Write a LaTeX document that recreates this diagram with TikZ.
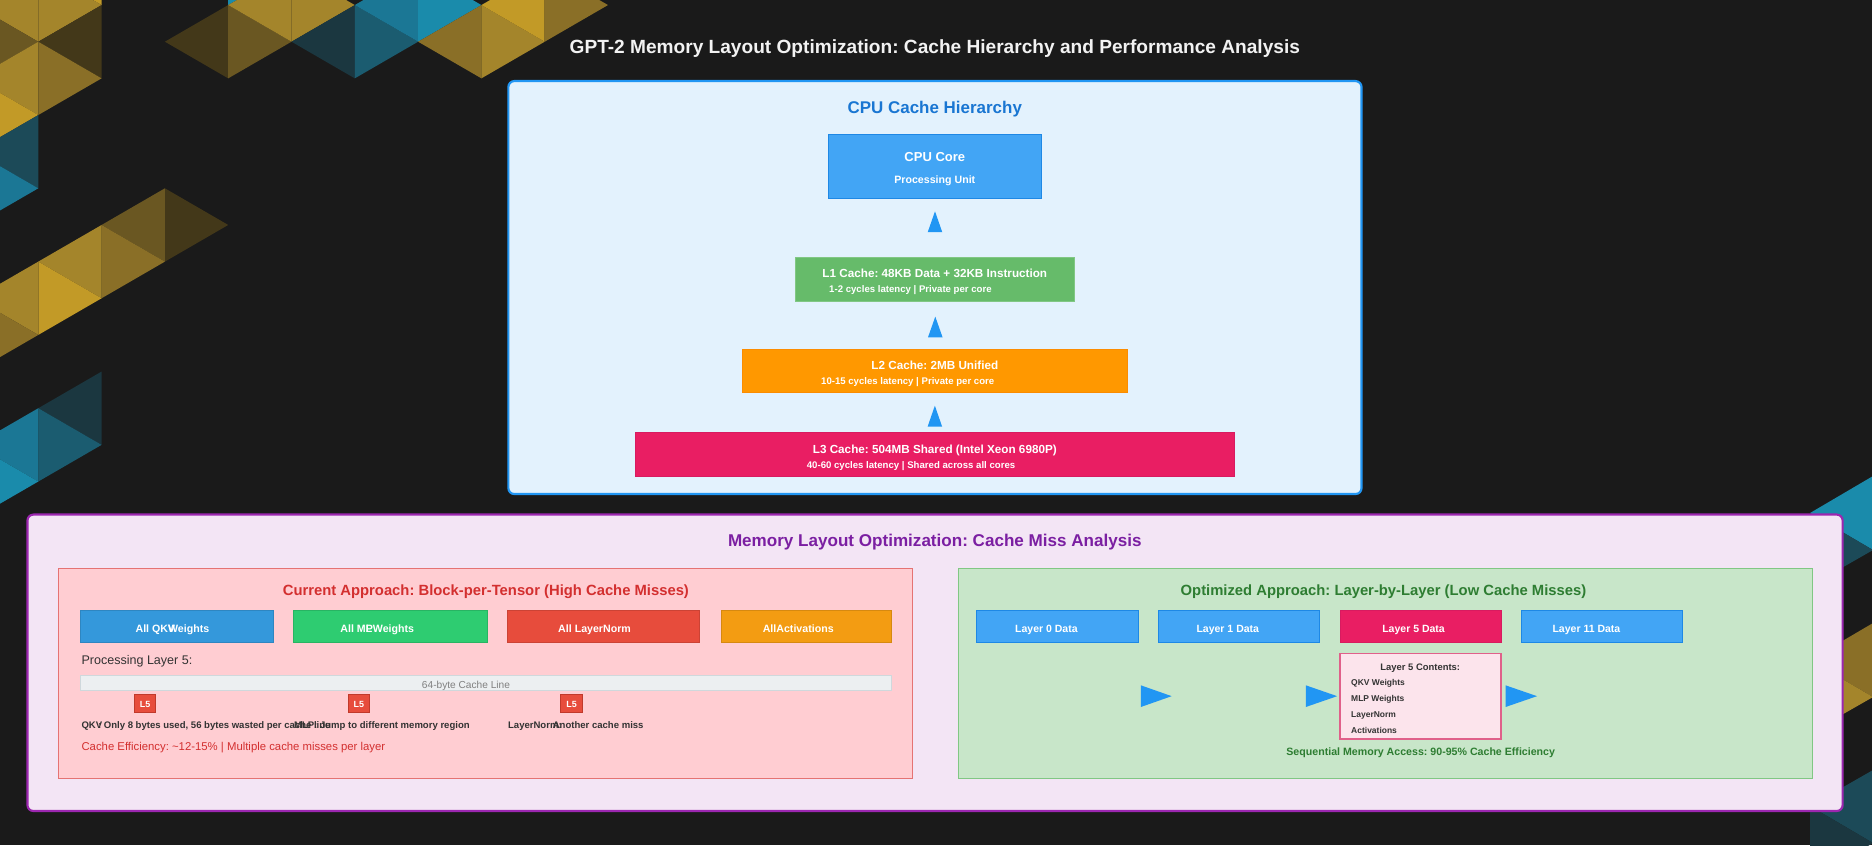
\documentclass[tikz,border=0pt]{standalone}
\usepackage{fontspec}
\setmainfont{Liberation Sans}
\usetikzlibrary{calc}
\frenchspacing
\definecolor{bgc}{HTML}{1A1A1A}
\definecolor{G1}{HTML}{C29A27}
\definecolor{G2}{HTML}{A4852B}
\definecolor{G3}{HTML}{8A6F27}
\definecolor{G4}{HTML}{6A5722}
\definecolor{G5}{HTML}{433819}
\definecolor{B1}{HTML}{1A8BAB}
\definecolor{B2}{HTML}{1B7795}
\definecolor{B3}{HTML}{1B5C70}
\definecolor{B4}{HTML}{1C4A58}
\definecolor{B5}{HTML}{1B3740}
\definecolor{titlec}{HTML}{F2F2F2}
\definecolor{cpubg}{HTML}{E3F2FD}
\definecolor{cpubd}{HTML}{2196F3}
\definecolor{cpuhead}{HTML}{1976D2}
\definecolor{corefill}{HTML}{42A5F5}
\definecolor{corebd}{HTML}{1E88E5}
\definecolor{l1fill}{HTML}{66BB6A}
\definecolor{l1bd}{HTML}{81C784}
\definecolor{l2fill}{HTML}{FF9800}
\definecolor{l2bd}{HTML}{FB8C00}
\definecolor{l3fill}{HTML}{E91E63}
\definecolor{l3bd}{HTML}{D81B60}
\definecolor{arrowc}{HTML}{2196F3}
\definecolor{mlbg}{HTML}{F3E5F5}
\definecolor{mlbd}{HTML}{9C27B0}
\definecolor{mlhead}{HTML}{7B1FA2}
\definecolor{curbg}{HTML}{FFCDD2}
\definecolor{curbd}{HTML}{E57373}
\definecolor{curhead}{HTML}{D32F2F}
\definecolor{qkvfill}{HTML}{3498DB}
\definecolor{qkvbd}{HTML}{2E86C1}
\definecolor{mlpfill}{HTML}{2ECC71}
\definecolor{mlpbd}{HTML}{28B463}
\definecolor{lnfill}{HTML}{E74C3C}
\definecolor{lnbd}{HTML}{CB4335}
\definecolor{actfill}{HTML}{F39C12}
\definecolor{actbd}{HTML}{D68910}
\definecolor{dark}{HTML}{333333}
\definecolor{linefill}{HTML}{ECEFF1}
\definecolor{linebd}{HTML}{CFD8DC}
\definecolor{linetxt}{HTML}{808080}
\definecolor{tagfill}{HTML}{E74C3C}
\definecolor{tagbd}{HTML}{C0392B}
\definecolor{optbg}{HTML}{C8E6C9}
\definecolor{optbd}{HTML}{81C784}
\definecolor{opthead}{HTML}{2E7D32}
\definecolor{cfill}{HTML}{FCE4EC}
\definecolor{cbd}{HTML}{E0608A}
\newcommand\myfs[1]{\fontsize{#1}{#1}\selectfont}
\newcommand\triR[3]{\fill[#3] (#1,#2) -- ({#1+1},#2) -- (#1,{#2+1}) -- cycle;}
\newcommand\triL[3]{\fill[#3] ({#1+1},#2) -- ({#1+1},{#2+1}) -- (#1,{#2+1}) -- cycle;}
\begin{document}
\begin{tikzpicture}[x=1pt,y=-1pt,
  every node/.style={inner sep=0pt,outer sep=0pt},
  txt/.style={anchor=base},
  txtw/.style={anchor=base west},
  blk/.style={anchor=north west,line width=0.8pt,draw},
  panel/.style={anchor=north west,draw,line width=1.8pt,rounded corners=5pt},
  sub/.style={anchor=north west,draw,line width=1pt},
  lbl/.style={anchor=base,font=\bfseries\myfs{8.9},text=white},
  note/.style={anchor=base west,font=\bfseries\myfs{8},text=dark},
  item/.style={anchor=base west,font=\bfseries\myfs{7.1},text=dark}]
\fill[bgc] (0,0) rectangle (1568,707.8);
\useasboundingbox (0,0) rectangle (1568,707.8);
% background mosaic
\begin{scope}[scale=0.83761]
 \begin{scope}[shift={(38.3pt,-41.7pt)},x={(63.3pt,-36.65pt)},y={(0pt,-73.3pt)}]
  \triL{-1}{-1}{G2}
  \triR{-1}{0}{G4}
  \triL{-1}{0}{G2}
  \triR{-1}{1}{G1}
  \triL{-1}{1}{B4}
  \triR{-1}{2}{B2}
  \triL{0}{-2}{G1}
  \triR{0}{-1}{G2}
  \triL{0}{-1}{G5}
  \triR{0}{0}{G3}
  \triR{2}{1}{G5}
  \triL{1}{1}{G4}
  \triR{1}{2}{G3}
  \triL{0}{2}{G2}
  \triR{0}{3}{G1}
  \triL{-1}{3}{G2}
  \triR{-1}{4}{G3}
  \triL{0}{4}{B5}
  \triR{0}{5}{B3}
  \triL{-1}{5}{B2}
  \triR{-1}{6}{B1}
  \triR{3}{-3}{B1}
  \triL{2}{-2}{G5}
  \triR{3}{-2}{G4}
  \triL{3}{-3}{G2}
  \triR{4}{-3}{G2}
  \triL{4}{-3}{B5}
  \triR{5}{-3}{B3}
  \triL{5}{-4}{B2}
  \triR{6}{-4}{B1}
  \triL{6}{-4}{G3}
  \triR{7}{-4}{G2}
  \triL{7}{-5}{G1}
  \triR{8}{-5}{G3}
 \end{scope}
 \fill[B1] (1810,513) -- (1873,476) -- (1873,550) -- cycle;
 \fill[B4] (1810,513) -- (1873,550) -- (1810,586) -- cycle;
 \fill[G3] (1810,660) -- (1873,623) -- (1873,697) -- cycle;
 \fill[G2] (1810,660) -- (1873,697) -- (1810,733) -- cycle;
 \fill[B4] (1810,806) -- (1873,770) -- (1873,843) -- cycle;
 \fill[B5] (1810,806) -- (1873,843) -- (1810,880) -- cycle;
\end{scope}
% title
\node[txt,font=\bfseries\myfs{16},text=titlec] (title) at (783,44.9) {GPT-2 Memory Layout Optimization: Cache Hierarchy and Performance Analysis};
% CPU cache hierarchy panel
\node[panel,draw=cpubd,fill=cpubg,minimum width=714.6pt,minimum height=345.9pt] (cpupanel) at (425.8,67.9) {};
\node[txt,font=\bfseries\myfs{14.2},text=cpuhead] (cpuhead) at (783,95.0) {CPU Cache Hierarchy};
\node[blk,draw=corebd,fill=corefill,minimum width=178.7pt,minimum height=53.6pt] (core) at (693.8,112.5) {};
\node[txt,font=\bfseries\myfs{10.9},text=white] (coret) at (783,135.1) {CPU Core};
\node[txt,font=\bfseries\myfs{8.9},text=white] (cores) at (783,153.4) {Processing Unit};
\node[blk,draw=l1bd,fill=l1fill,minimum width=233.6pt,minimum height=36.3pt] (l1) at (666.6,215.8) {};
\node[txt,font=\bfseries\myfs{9.8},text=white] (l1t) at (783,232.5) {L1 Cache: 48KB Data + 32KB Instruction};
\node[txt,font=\bfseries\myfs{8.05},text=white] (l1s) at (762.6,244.9) {1-2 cycles latency | Private per core};
\node[blk,draw=l2bd,fill=l2fill,minimum width=322.5pt,minimum height=36.3pt] (l2) at (621.8,292.6) {};
\node[txt,font=\bfseries\myfs{9.8},text=white] (l2t) at (783,309.8) {L2 Cache: 2MB Unified};
\node[txt,font=\bfseries\myfs{8.05},text=white] (l2s) at (760.3,322.0) {10-15 cycles latency | Private per core};
\node[blk,draw=l3bd,fill=l3fill,minimum width=501.6pt,minimum height=36.8pt] (l3) at (532.5,362.4) {};
\node[txt,font=\bfseries\myfs{9.8},text=white] (l3t) at (783,380.1) {L3 Cache: 504MB Shared (Intel Xeon 6980P)};
\node[txt,font=\bfseries\myfs{8.05},text=white] (l3s) at (763.1,392.4) {40-60 cycles latency | Shared across all cores};
\fill[arrowc] ($(core.south)+(0,10.9)$) -- ++(6.1,17.5) -- ++(-12.2,0) -- cycle;
\fill[arrowc] ($(l1.south)+(0,13.1)$) -- ++(6.1,17.3) -- ++(-12.2,0) -- cycle;
\fill[arrowc] ($(l2.south)+(0,10.9)$) -- ++(6.1,17.6) -- ++(-12.2,0) -- cycle;
% memory layout panel
\node[panel,draw=mlbd,fill=mlbg,minimum width=1520.4pt,minimum height=248.3pt] (mlpanel) at (23,431) {};
\node[txt,font=\bfseries\myfs{14.3},text=mlhead] (mlhead) at (783,458.1) {Memory Layout Optimization: Cache Miss Analysis};
% current approach
\node[sub,draw=curbd,fill=curbg,minimum width=715.7pt,minimum height=175.9pt] (cur) at (48.8,476) {};
\node[txt,font=\bfseries\myfs{12.4},text=curhead] (curhead) at (407,499.2) {Current Approach: Block-per-Tensor (High Cache Misses)};
\node[blk,draw=qkvbd,fill=qkvfill,minimum width=161.8pt,minimum height=27.3pt] (bqkv) at (67.4,511) {};
\node[lbl] (bqkvt) at (144.4,529.4) {All QK\rlap{V}Weights};
\node[blk,draw=mlpbd,fill=mlpfill,minimum width=162pt,minimum height=27.3pt] (bmlp) at (246,511) {};
\node[lbl] (bmlpt) at (316,529.4) {All M\rlap{L}PWeights};
\node[blk,draw=lnbd,fill=lnfill,minimum width=161pt,minimum height=27.3pt] (bln) at (425,511) {};
\node[lbl] (blnt) at (498,529.4) {All LayerNorm};
\node[blk,draw=actbd,fill=actfill,minimum width=143pt,minimum height=27.3pt] (bact) at (604,511) {};
\node[lbl] (bactt) at (668.6,529.4) {AllActivations};
\node[txtw,font=\myfs{10.5},text=dark] (proc) at (68.3,556.6) {Processing Layer 5:};
\node[blk,draw=linebd,fill=linefill,minimum width=679.6pt,minimum height=13.1pt] (cline) at (67.4,565.4) {};
\node[txt,font=\myfs{8.5},text=linetxt] (clinet) at (390.3,576.8) {64-byte Cache Line};
\node[blk,draw=tagbd,fill=tagfill,minimum width=18pt,minimum height=14.8pt] (tag1) at (112.5,582.1) {};
\node[blk,draw=tagbd,fill=tagfill,minimum width=18pt,minimum height=14.8pt] (tag2) at (291.5,582.1) {};
\node[blk,draw=tagbd,fill=tagfill,minimum width=18pt,minimum height=14.8pt] (tag3) at (469.7,582.1) {};
\node[txt,font=\bfseries\myfs{7.5},text=white] (tag1t) at ($(tag1.center)+(0,2.7)$) {L5};
\node[txt,font=\bfseries\myfs{7.5},text=white] (tag2t) at ($(tag2.center)+(0,2.7)$) {L5};
\node[txt,font=\bfseries\myfs{7.5},text=white] (tag3t) at ($(tag3.center)+(0,2.7)$) {L5};
\node[note] (n1) at (68.3,610.2) {QKV\kern-3.5pt: Only 8 bytes used, 56 bytes wasted per cache line};
\node[note] (n2) at (246.3,610.2) {MLP: Jump to different memory region};
\node[note] (n3) at (425.6,610.2) {LayerNorm:};
\node[note] (n4) at (463,610.2) {Another cache miss};
\node[txtw,font=\myfs{9.5},text=curhead] (ceff) at (68.3,628.8) {Cache Efficiency: \textasciitilde12-15\% | Multiple cache misses per layer};
% optimized approach
\node[sub,draw=optbd,fill=optbg,minimum width=715.4pt,minimum height=175.9pt] (opt) at (802.8,476) {};
\node[txt,font=\bfseries\myfs{12.4},text=opthead] (opthead) at (1158.8,499.2) {Optimized Approach: Layer-by-Layer (Low Cache Misses)};
\node[blk,draw=corebd,fill=corefill,minimum width=135pt,minimum height=27.3pt] (lay0) at (818.3,511) {};
\node[blk,draw=corebd,fill=corefill,minimum width=135pt,minimum height=27.3pt] (lay1) at (970.6,511) {};
\node[blk,draw=l3bd,fill=l3fill,minimum width=135pt,minimum height=27.3pt] (lay5) at (1122.4,511) {};
\node[blk,draw=corebd,fill=corefill,minimum width=135pt,minimum height=27.3pt] (lay11) at (1274.2,511) {};
\node[lbl,font=\bfseries\myfs{8.8}] (lay0t) at (876.5,529.4) {Layer 0 Data};
\node[lbl,font=\bfseries\myfs{8.8}] (lay1t) at (1028.4,529.4) {Layer 1 Data};
\node[lbl,font=\bfseries\myfs{8.8}] (lay5t) at (1184,529.4) {Layer 5 Data};
\node[lbl,font=\bfseries\myfs{8.8}] (lay11t) at (1328.8,529.4) {Layer 11 Data};
\node[blk,draw=cbd,fill=cfill,minimum width=134.9pt,minimum height=71.8pt,line width=1pt] (c5) at (1122.4,547.2) {};
\node[txt,font=\bfseries\myfs{7.9},text=dark] (c5t) at (1189.6,561.2) {Layer 5 Contents:};
\node[item] (c5a) at (1131.8,574.4) {QKV Weights};
\node[item] (c5b) at (1131.8,587.8) {MLP Weights};
\node[item] (c5c) at (1131.8,601.2) {LayerNorm};
\node[item] (c5d) at (1131.8,614.6) {Activations};
\fill[arrowc] ($(c5.west)+(-166.9,-9.1)$) -- ++(25.9,9.1) -- ++(-25.9,9.1) -- cycle;
\fill[arrowc] ($(c5.west)+(-28.7,-9.1)$) -- ++(26.3,9.1) -- ++(-26.3,9.1) -- cycle;
\fill[arrowc] ($(c5.east)+(3.7,-9.1)$) -- ++(26.4,9.1) -- ++(-26.4,9.1) -- cycle;
\node[txt,font=\bfseries\myfs{8.9},text=opthead] (seq) at (1190,632.8) {Sequential Memory Access: 90-95\% Cache Efficiency};
\end{tikzpicture}
\end{document}
